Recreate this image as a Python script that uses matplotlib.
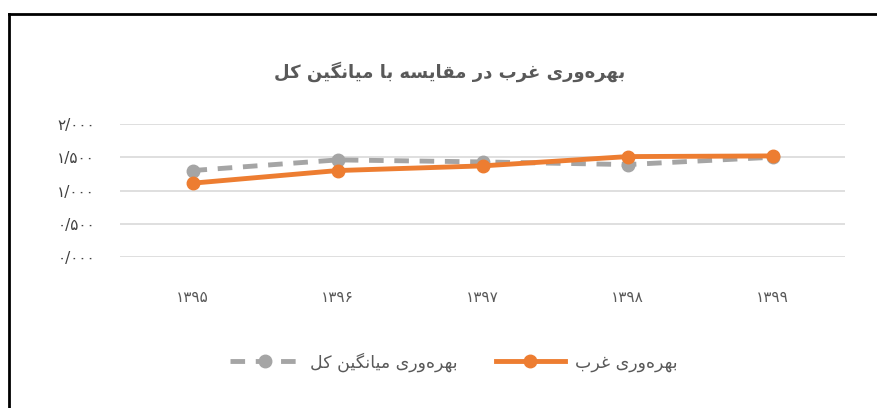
import numpy as np
import matplotlib
matplotlib.use("Agg")
import matplotlib.pyplot as plt
from matplotlib.lines import Line2D

years = ["۱۳۹۵", "۱۳۹۶", "۱۳۹۷", "۱۳۹۸", "۱۳۹۹"]
west = [1.11, 1.30, 1.37, 1.51, 1.52]
avg = [1.30, 1.46, 1.43, 1.39, 1.50]
yticks = [0.0, 0.5, 1.0, 1.5, 2.0]
ytick_labels = ["۰/۰۰۰", "۰/۵۰۰", "۱/۰۰۰", "۱/۵۰۰", "۲/۰۰۰"]
title = "بهره‌وری غرب در مقایسه با میانگین کل"
label_west = "بهره‌وری غرب"
label_avg = "بهره‌وری میانگین کل"

# presentation forms: (isolated, final, initial, medial); right-joining letters have no initial/medial
FORMS = {
    "ب": ("\uFE8F", "\uFE90", "\uFE91", "\uFE92"),
    "ه": ("\uFEE9", "\uFEEA", "\uFEEB", "\uFEEC"),
    "ی": ("\uFBFC", "\uFBFD", "\uFBFE", "\uFBFF"),
    "غ": ("\uFECD", "\uFECE", "\uFECF", "\uFED0"),
    "م": ("\uFEE1", "\uFEE2", "\uFEE3", "\uFEE4"),
    "ق": ("\uFED5", "\uFED6", "\uFED7", "\uFED8"),
    "س": ("\uFEB1", "\uFEB2", "\uFEB3", "\uFEB4"),
    "ن": ("\uFEE5", "\uFEE6", "\uFEE7", "\uFEE8"),
    "گ": ("\uFB92", "\uFB93", "\uFB94", "\uFB95"),
    "ک": ("\uFB8E", "\uFB8F", "\uFB90", "\uFB91"),
    "ل": ("\uFEDD", "\uFEDE", "\uFEDF", "\uFEE0"),
    "ر": ("\uFEAD", "\uFEAE", None, None),
    "و": ("\uFEED", "\uFEEE", None, None),
    "د": ("\uFEA9", "\uFEAA", None, None),
    "ا": ("\uFE8D", "\uFE8E", None, None),
}


def joins_left(ch):
    return ch in FORMS and FORMS[ch][2] is not None


def shape(text):
    out = []
    for i, ch in enumerate(text):
        if ch == "\u200c":
            continue
        if ch not in FORMS:
            out.append(ch)
            continue
        prev = text[i - 1] if i > 0 else ""
        nxt = text[i + 1] if i + 1 < len(text) else ""
        from_prev = joins_left(prev)
        to_next = joins_left(ch) and nxt in FORMS
        iso, fin, ini, med = FORMS[ch]
        if from_prev and to_next:
            out.append(med)
        elif from_prev:
            out.append(fin)
        elif to_next:
            out.append(ini)
        else:
            out.append(iso)
    return "".join(out)[::-1]


plt.rcParams['font.family'] = ['DejaVu Sans']

fig = plt.figure(figsize=(8.77, 4.08), dpi=100)
ax = fig.add_axes([120 / 877, 1 - 257 / 408, 725 / 877, 133 / 408])

x = np.arange(len(years))
ax.plot(x, avg, color="#A5A5A5", linewidth=3.5, linestyle=(0, (3, 2.2)),
        marker="o", markersize=9, label=shape(label_avg), zorder=3)
ax.plot(x, west, color="#ED7D31", linewidth=3.5, marker="o", markersize=9,
        label=shape(label_west), zorder=4)

ax.set_xlim(-0.5, len(years) - 0.5)
ax.set_ylim(0, 2.0)
ax.set_yticks(yticks)
ax.set_yticklabels(ytick_labels)
ax.set_xticks(x)
ax.set_xticklabels(years)
ax.tick_params(axis="both", length=0, labelsize=11, colors="#595959")
ax.tick_params(axis="x", pad=24)
ax.tick_params(axis="y", pad=18, labelcolor="#404040")
ax.grid(axis="y", color="#D9D9D9", linewidth=1.2)
ax.set_axisbelow(True)
for s in ax.spines.values():
    s.set_visible(False)

fig.text(450 / 877, 1 - 72 / 408, shape(title), ha="center", va="center",
         fontsize=13, fontweight="bold", color="#595959")

handles, labels = ax.get_legend_handles_labels()
fig.legend(handles, labels, loc="center", bbox_to_anchor=(454 / 877, 1 - 362 / 408),
           ncol=2, frameon=False, fontsize=12.5, handlelength=4,
           handletextpad=0.6, columnspacing=2.2, labelcolor="#595959")

# border lines on left and top
fig.add_artist(Line2D([9 / 877, 9 / 877], [0, 1 - 14 / 408], color="black", linewidth=2))
fig.add_artist(Line2D([9 / 877, 1], [1 - 14 / 408, 1 - 14 / 408], color="black", linewidth=2))

fig.savefig("out.png", dpi=100)
